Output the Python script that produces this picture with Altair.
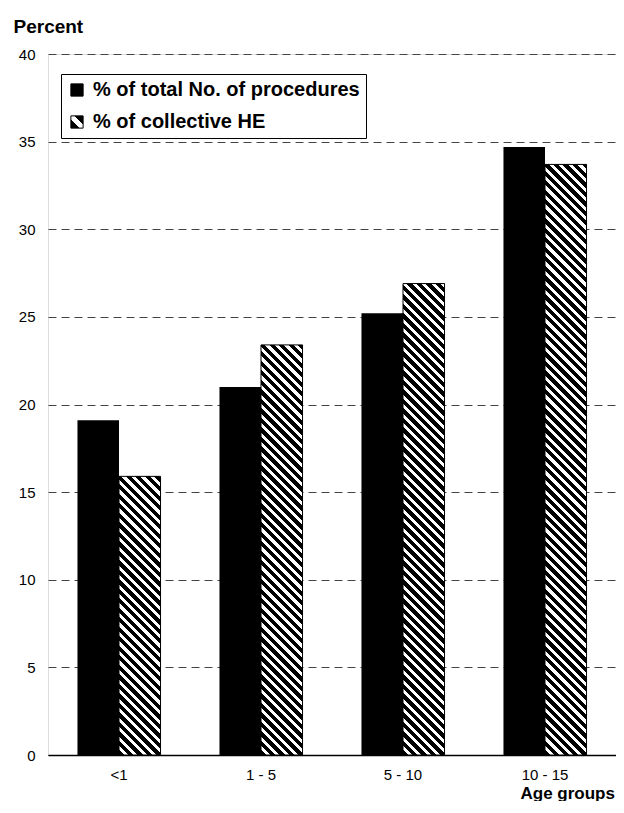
import math
import altair as alt

# ---------------- data ----------------
categories = ["<1", "1 - 5", "5 - 10", "10 - 15"]
series_names = ["% of total No. of procedures", "% of collective HE"]
procedures = [19.1, 21.0, 25.2, 34.7]
collective_he = [15.9, 23.4, 26.9, 33.7]
y_ticks = [0, 5, 10, 15, 20, 25, 30, 35, 40]

# ---------------- layout / style constants ----------------
PLOT_W, PLOT_H = 568, 701
Y_MAX = 40
PAD_INNER = 0.415
FONT = "Liberation Sans"
BAR_W = PLOT_W / len(categories) * (1 - PAD_INNER) / 2
PX_PER_UNIT = PLOT_H / Y_MAX


def hatch_stops(total, period, white):
    stops = []
    n = int(math.ceil(total / period))
    for i in range(n):
        a = min(i * period / total, 1.0)
        b = min((i * period + period * (1 - white)) / total, 1.0)
        c = min((i + 1) * period / total, 1.0)
        stops += [
            {"offset": round(a, 5), "color": "#000000"},
            {"offset": round(b, 5), "color": "#000000"},
            {"offset": round(b, 5), "color": "#ffffff"},
            {"offset": round(c, 5), "color": "#ffffff"},
        ]
    return stops


def hatch_gradient(w, h, period=9.5, white=0.45):
    """Linear gradient (bbox units) giving 45-degree '\\' stripes in pixel space."""
    total = w + h
    k = total / (w * w + h * h)
    return {
        "gradient": "linear",
        "x1": 0, "y1": 1,
        "x2": round(k * w, 6), "y2": round(1 - k * h, 6),
        "stops": hatch_stops(total, period, white),
    }


def to_expr(obj):
    if isinstance(obj, dict):
        return "{" + ", ".join(f"{k}: {to_expr(v)}" for k, v in obj.items()) + "}"
    if isinstance(obj, list):
        return "[" + ", ".join(to_expr(v) for v in obj) + "]"
    if isinstance(obj, str):
        return "'" + obj + "'"
    return repr(obj)


legend_grad = {
    "gradient": "linear", "x1": 0, "y1": 1, "x2": 1, "y2": 0,
    "stops": [
        {"offset": 0, "color": "#000000"}, {"offset": 0.37, "color": "#000000"},
        {"offset": 0.37, "color": "#ffffff"}, {"offset": 0.63, "color": "#ffffff"},
        {"offset": 0.63, "color": "#000000"}, {"offset": 1, "color": "#000000"},
    ],
}

records = []
for c, v in zip(categories, procedures):
    records.append({"category": c, "series": series_names[0], "value": v})
for c, v in zip(categories, collective_he):
    records.append({"category": c, "series": series_names[1], "value": v})

hatch_records = [
    {"category": c, "series": series_names[1], "value": v,
     "grad": hatch_gradient(BAR_W, v * PX_PER_UNIT)}
    for c, v in zip(categories, collective_he)
]

x_enc = alt.X(
    "category:N", sort=categories,
    scale=alt.Scale(domain=categories, paddingInner=PAD_INNER, paddingOuter=PAD_INNER / 2),
    axis=alt.Axis(
        title="Age groups", labelAngle=0, labelFontSize=15, labelFont=FONT,
        labelColor="#000000", labelPadding=12, ticks=False, tickSize=0,
        domain=True, domainColor="#000000", domainWidth=1.5, grid=False,
        titleFont=FONT, titleFontSize=17, titleFontWeight="bold", titleColor="#000000",
        titleX=472, titleY=43, titleAlign="left", titleBaseline="alphabetic",
    ),
)
xoff_enc = alt.XOffset(
    "series:N", sort=series_names,
    scale=alt.Scale(domain=series_names, paddingInner=0, paddingOuter=0),
)
y_enc = alt.Y(
    "value:Q", stack=None,
    scale=alt.Scale(domain=[0, Y_MAX], nice=False, zero=True),
    axis=alt.Axis(
        values=y_ticks, title="Percent", labelFontSize=15, labelFont=FONT,
        labelColor="#000000", labelPadding=13, ticks=False, tickSize=0,
        domain=False, grid=True, gridDash=[8, 5], gridColor="#444444", gridWidth=1,
        titleFont=FONT, titleFontSize=19, titleFontWeight="bold", titleColor="#000000",
        titleAngle=0, titleX=-35, titleY=-22, titleAlign="left", titleBaseline="alphabetic",
    ),
)

bars = alt.Chart(alt.Data(values=records)).mark_bar().encode(
    x=x_enc,
    xOffset=xoff_enc,
    y=y_enc,
    fill=alt.Fill(
        "series:N",
        scale=alt.Scale(domain=series_names,
                        range=["#000000", alt.ExprRef(expr=to_expr(legend_grad))]),
        legend=alt.Legend(
            title=None, orient="none", legendX=13, legendY=20, direction="vertical",
            strokeColor="#000000", fillColor="#ffffff", padding=6, rowPadding=12,
            labelFont=FONT, labelFontSize=20, labelFontWeight="bold", labelColor="#000000",
            labelLimit=600, labelOffset=6, symbolType="square", symbolSize=150,
            symbolStrokeColor="#000000", symbolStrokeWidth=1, cornerRadius=0,
        ),
    ),
)

hatched = alt.Chart(alt.Data(values=hatch_records)).mark_bar(
    stroke="#000000", strokeWidth=1
).encode(
    x=x_enc,
    xOffset=xoff_enc,
    y=y_enc,
    fill=alt.Fill("grad:N", scale=None, legend=None),
)

chart = alt.layer(bars, hatched).properties(
    width=PLOT_W, height=PLOT_H,
    autosize=alt.AutoSizeParams(type="none"),
    padding={"left": 40, "top": 46, "right": 0, "bottom": 46},
    background="#ffffff",
).configure_view(
    stroke="#000000", strokeWidth=1.5
).configure(font=FONT)

chart.save("out.html", embed_options={"renderer": "svg", "actions": False})
